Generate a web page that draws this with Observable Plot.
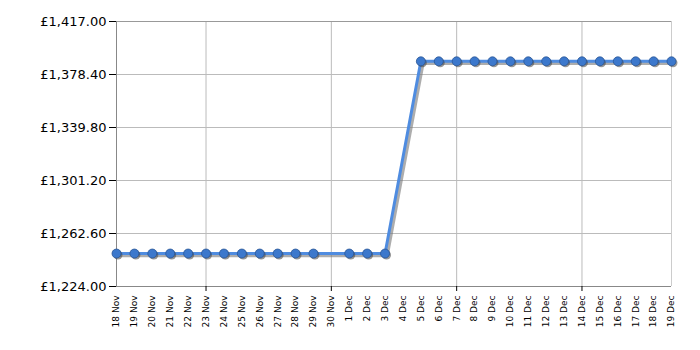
<!DOCTYPE html>
<html>
<head>
<meta charset="utf-8">
<script src="https://cdn.jsdelivr.net/npm/d3@7"></script>
<script src="https://cdn.jsdelivr.net/npm/@observablehq/plot@0.6"></script>
<style>
  html, body { margin: 0; padding: 0; background: #fff; }
  #chart svg { display: block; }
</style>
</head>
<body>
<div id="chart"></div>
<script>
const dates = [
  "2023-11-18","2023-11-19","2023-11-20","2023-11-21","2023-11-22","2023-11-23",
  "2023-11-24","2023-11-25","2023-11-26","2023-11-27","2023-11-28","2023-11-29",
  "2023-12-01","2023-12-02","2023-12-03",
  "2023-12-05","2023-12-06","2023-12-07","2023-12-08","2023-12-09","2023-12-10",
  "2023-12-11","2023-12-12","2023-12-13","2023-12-14","2023-12-15","2023-12-16",
  "2023-12-17","2023-12-18","2023-12-19"
];
const prices = [
  1248,1248,1248,1248,1248,1248,1248,1248,1248,1248,1248,1248,
  1248,1248,1248,
  1388,1388,1388,1388,1388,1388,1388,1388,1388,1388,1388,1388,1388,1388,1388
];
const yTicks = [1224, 1262.6, 1301.2, 1339.8, 1378.4, 1417];
const xStart = "2023-11-18", xEnd = "2023-12-19";
const gridDates = ["2023-11-23","2023-11-30","2023-12-07","2023-12-14"];

const data = dates.map((d, i) => ({date: new Date(d), price: prices[i]}));
const dayTicks = d3.utcDay.range(new Date(xStart), d3.utcDay.offset(new Date(xEnd), 1));
const weekly = gridDates.map(d => new Date(d));
const fmtY = d => "£" + d3.format(",.2f")(d);

const chart = Plot.plot({
  width: 700,
  height: 350,
  marginLeft: 116,
  marginRight: 29,
  marginTop: 21,
  marginBottom: 64,
  style: {fontFamily: "DejaVu Sans, Verdana, sans-serif", color: "#000", background: "#fff"},
  x: {type: "utc", domain: [new Date(xStart), new Date(xEnd)]},
  y: {domain: [yTicks[0], yTicks[yTicks.length - 1]]},
  marks: [
    Plot.gridY(yTicks, {stroke: "#bbb", strokeOpacity: 1}),
    Plot.gridX(weekly, {stroke: "#bbb", strokeOpacity: 1}),
    Plot.ruleX([new Date(xEnd)], {stroke: "#ccc"}),
    Plot.ruleY([yTicks[yTicks.length - 1]], {stroke: "#999"}),
    Plot.ruleY([yTicks[0]], {stroke: "#888"}),
    Plot.ruleX([new Date(xStart)], {stroke: "#888"}),
    Plot.axisY(yTicks, {tickFormat: fmtY, tickSize: 7, tickPadding: 3, fontSize: 13, label: null}),
    Plot.axisX(dayTicks, {tickFormat: d3.utcFormat("%-d %b"), tickRotate: -90, tickSize: 0, tickPadding: 9, fontSize: 9, label: null}),
    Plot.axisX(weekly, {tickFormat: () => "", tickSize: 5, label: null}),
    Plot.line(data, {x: "date", y: "price", stroke: "#777", strokeWidth: 3.5, strokeOpacity: 0.6, dx: 2, dy: 2}),
    Plot.line(data, {x: "date", y: "price", stroke: "#4f8ce0", strokeWidth: 3}),
    Plot.dot(data, {x: "date", y: "price", r: 4.5, fill: "#444", fillOpacity: 0.55, dx: 1.5, dy: 1.5}),
    Plot.dot(data, {x: "date", y: "price", r: 4.5, fill: "#3c78cc", stroke: "#2a5594", strokeWidth: 0.8})
  ]
});
document.getElementById("chart").appendChild(chart);
</script>
</body>
</html>
